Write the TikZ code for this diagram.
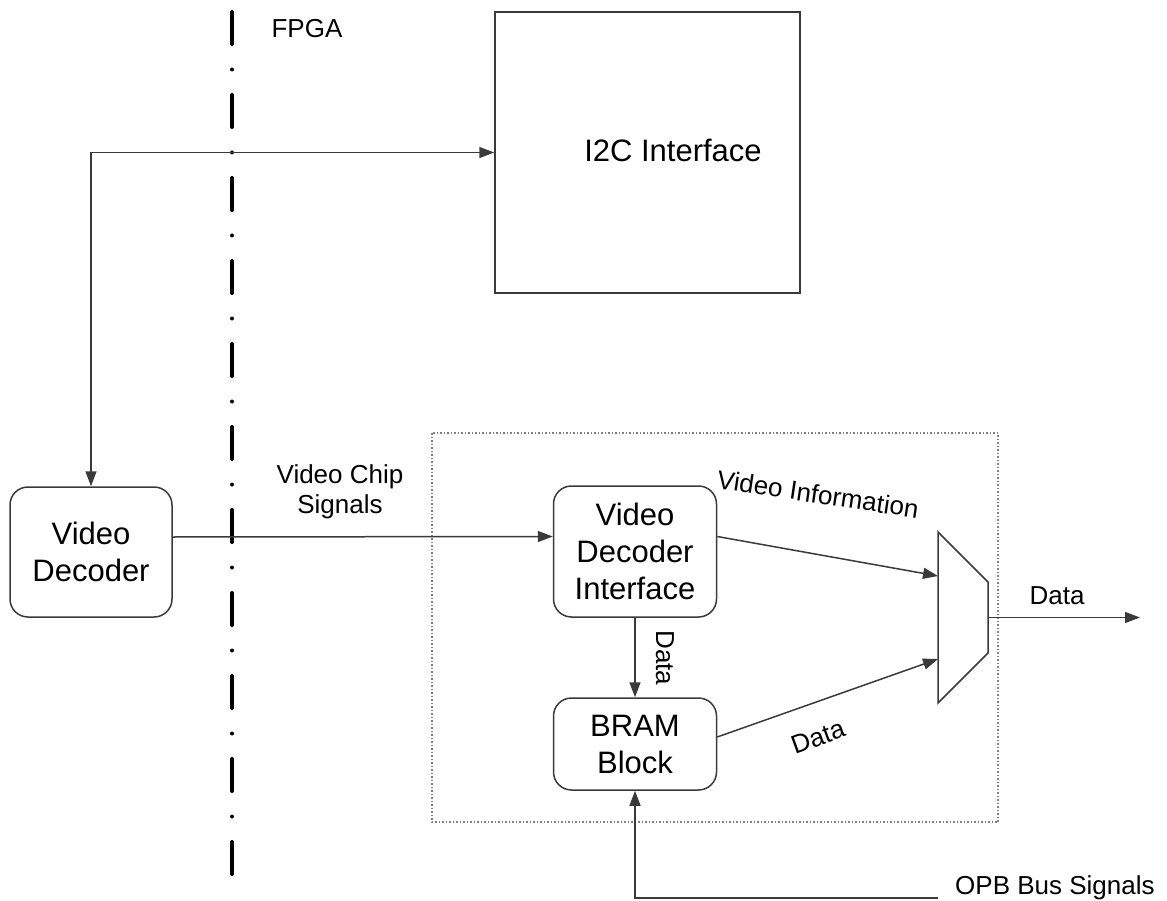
\documentclass[tikz,border=0pt]{standalone}
\usepackage{fontspec}
\setmainfont{Liberation Sans}
\usetikzlibrary{arrows.meta}
\definecolor{ln}{HTML}{3A3A3A}
\tikzset{
  big/.style={font=\fontsize{31}{37}\selectfont, align=center, inner sep=0pt},
  small/.style={font=\fontsize{26}{30}\selectfont, align=center, inner sep=0pt},
  rbox/.style={draw=ln, line width=1.5pt, rounded corners=18pt, inner sep=0pt},
  arr/.style={draw=ln, line width=1.5pt, -{Triangle[length=15pt,width=11pt]}},
  biarr/.style={draw=ln, line width=1.5pt, {Triangle[length=15pt,width=11pt]}-{Triangle[length=15pt,width=11pt]}},
  plain/.style={draw=ln, line width=1.5pt},
}
\begin{document}
\begin{tikzpicture}[x=1pt,y=-1pt]
\useasboundingbox (0,0) rectangle (1167,901);
% FPGA boundary
\draw[line width=4pt, line cap=round, dash pattern=on 32pt off 25.5pt on 0pt off 25.5pt] (232,12) -- (232,897);
\node[small, anchor=base] (fpga) at (307,38) {FPGA};
% I2C
\node[draw=ln, line width=1.5pt, minimum width=305pt, minimum height=281pt, inner sep=0pt] (i2c) at (647.5,152.5) {};
\node[big, anchor=base] (i2ct) at (673,162) {I2C Interface};
% dotted container
\draw[draw=gray, line width=1.5pt, dotted] (432,433) rectangle (998,822);
% blocks
\node[rbox, big, minimum width=162pt, minimum height=130pt] (vd) at (91,552) {Video\\Decoder};
\node[rbox, big, minimum width=163pt, minimum height=131pt] (vdi) at (635,551.5) {Video\\Decoder\\Interface};
\node[rbox, big, minimum width=163pt, minimum height=92pt] (bram) at (635,744) {BRAM\\Block};
% mux
\coordinate (m1) at (938,532);
\coordinate (m2) at (988,582);
\coordinate (m3) at (988,653);
\coordinate (m4) at (938,703);
\draw[plain, fill=white] (m1) -- (m2) -- (m3) -- (m4) -- cycle;
\coordinate (min1) at (938,576);
\coordinate (min2) at (938,659);
\coordinate (mout) at (988,617.5);
\coordinate (out) at (1140,617.5);
\coordinate (opb) at (938,898);
% connectors
\draw[biarr] (i2c.west) -| (vd.north);
\draw[arr] ([yshift=15pt]vd.east) -- ([yshift=15pt]vdi.west);
\node[small] (vcs) at (340,492) {Video Chip\\Signals};
\draw[arr] (vdi.south) -- (bram.north);
\node[small, rotate=-90] (d1) at (665,658) {Data};
\draw[arr] ([yshift=15pt]vdi.east) -- (min1);
\node[small, rotate=-8.5] (vinfo) at (818,494) {Video Information};
\draw[arr] ([yshift=7pt]bram.east) -- (min2);
\node[small, rotate=20] (d2) at (818,737) {Data};
\draw[arr] (mout) -- (out);
\node[small, anchor=base] (d3) at (1057,604) {Data};
\draw[arr] (opb) -| (bram.south);
\node[small, anchor=west] (opbt) at (955,888) {OPB Bus Signals};
\end{tikzpicture}
\end{document}
